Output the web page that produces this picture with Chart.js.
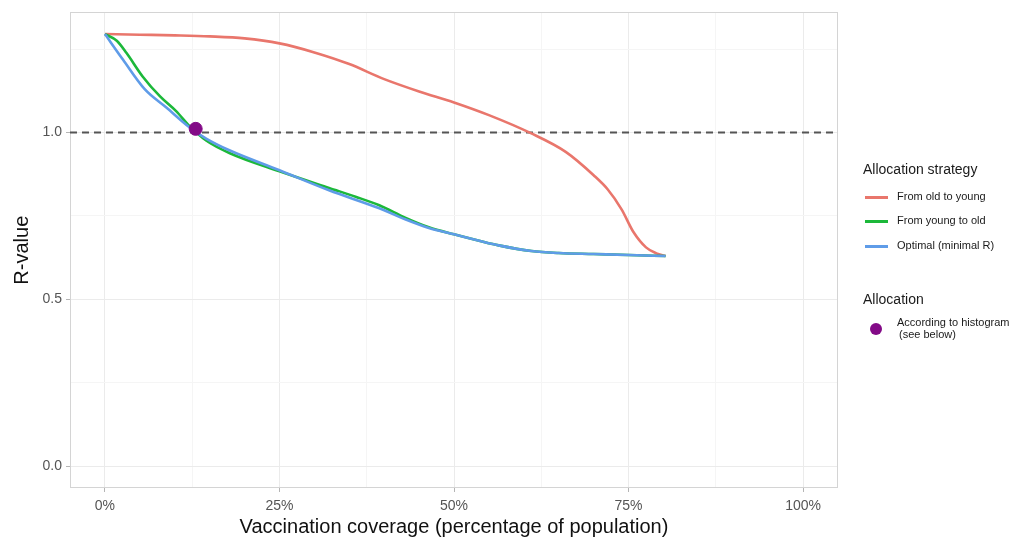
<!DOCTYPE html>
<html>
<head>
<meta charset="utf-8">
<script src="https://cdn.jsdelivr.net/npm/chart.js@4/dist/chart.umd.min.js"></script>
<style>
  html, body { margin: 0; padding: 0; background: #fff; }
  #wrap { position: relative; width: 1024px; height: 539px; overflow: hidden; font-family: "Liberation Sans", Arial, sans-serif; }
  canvas { position: absolute; left: 0; top: 0; }
  .lg { position: absolute; white-space: nowrap; color: #1a1a1a; }
  .lgt { font-size: 14px; }
  .lgi { font-size: 11px; line-height: 11px; }
  .sw { position: absolute; height: 3px; width: 23px; }
  .dot { position: absolute; width: 12px; height: 12px; border-radius: 50%; }
</style>
</head>
<body>
<div id="wrap">
  <canvas id="c" width="1024" height="539"></canvas>
</div>
<script>
// ---- data (x = vaccination coverage fraction, y = R-value) ----
const oldToYoungX = [0, 0.05, 0.10, 0.15, 0.20, 0.25, 0.30, 0.35, 0.40, 0.45, 0.50, 0.55, 0.61, 0.66, 0.70, 0.72, 0.74, 0.757, 0.775, 0.79, 0.803];
const oldToYoungY = [1.295, 1.293, 1.291, 1.288, 1.282, 1.267, 1.240, 1.205, 1.160, 1.123, 1.090, 1.052, 0.998, 0.942, 0.872, 0.830, 0.770, 0.702, 0.656, 0.638, 0.630];

const youngToOldX = [0, 0.017, 0.031, 0.054, 0.079, 0.102, 0.121, 0.145, 0.179, 0.25, 0.321, 0.36, 0.393, 0.43, 0.464, 0.50, 0.536, 0.564, 0.611, 0.65, 0.70, 0.75, 0.803];
const youngToOldY = [1.295, 1.275, 1.238, 1.168, 1.108, 1.064, 1.020, 0.976, 0.938, 0.884, 0.834, 0.807, 0.782, 0.745, 0.716, 0.695, 0.676, 0.662, 0.645, 0.639, 0.636, 0.633, 0.630];

const optimalX = [0, 0.026, 0.057, 0.088, 0.121, 0.145, 0.179, 0.25, 0.321, 0.393, 0.43, 0.464, 0.50, 0.536, 0.564, 0.611, 0.65, 0.70, 0.75, 0.803];
const optimalY = [1.295, 1.218, 1.130, 1.075, 1.016, 0.982, 0.946, 0.887, 0.827, 0.773, 0.740, 0.714, 0.695, 0.676, 0.662, 0.645, 0.639, 0.636, 0.633, 0.630];

const histogramPointX = [0.13];
const histogramPointY = [1.011];

const thresholdR = 1.0;

const xTickValues = [0, 0.125, 0.25, 0.375, 0.5, 0.625, 0.75, 0.875, 1.0];
const xLabeledTicks = [0, 0.25, 0.5, 0.75, 1.0];
const yTickValues = [0, 0.25, 0.5, 0.75, 1.0, 1.25];
const yLabeledTicks = [0, 0.5, 1.0];

const xMin = -0.05, xMax = 1.05;
const yMin = -0.0648, yMax = 1.3598;

const seriesNames = ["From old to young", "From young to old", "Optimal (minimal R)"];
const seriesColors = ["#e9766c", "#1cb83a", "#5f9ce8"];
const pointName = "According to histogram\n(see below)";
const pointColor = "#830a87";

// ---- build ----
const pts = (xs, ys) => xs.map((x, i) => ({ x: x, y: ys[i] }));
const isIn = (arr, v) => arr.some(a => Math.abs(a - v) < 1e-9);

const frame = {
  id: 'frame',
  beforeDatasetsDraw(chart) {
    const a = chart.chartArea, ctx = chart.ctx;
    ctx.save();
    ctx.strokeStyle = '#d4d4d4';
    ctx.lineWidth = 1;
    ctx.strokeRect(Math.round(a.left) + 0.5, Math.round(a.top) + 0.5, Math.round(a.right - a.left) - 1, Math.round(a.bottom - a.top) - 1);
    ctx.restore();
  }
};

const tickFont = { family: '"Liberation Sans", Arial, sans-serif', size: 14 };
const titleFont = { family: '"Liberation Sans", Arial, sans-serif', size: 20 };

new Chart(document.getElementById('c'), {
  type: 'line',
  data: {
    datasets: [
      { label: 'point', data: pts(histogramPointX, histogramPointY), showLine: false, pointRadius: 6.5, pointBackgroundColor: pointColor, pointBorderColor: pointColor, order: 0 },
      { label: seriesNames[2], data: pts(optimalX, optimalY), borderColor: seriesColors[2], borderWidth: 2.6, pointRadius: 0, cubicInterpolationMode: 'monotone', order: 1 },
      { label: seriesNames[1], data: pts(youngToOldX, youngToOldY), borderColor: seriesColors[1], borderWidth: 2.6, pointRadius: 0, cubicInterpolationMode: 'monotone', order: 2 },
      { label: seriesNames[0], data: pts(oldToYoungX, oldToYoungY), borderColor: seriesColors[0], borderWidth: 2.6, pointRadius: 0, cubicInterpolationMode: 'monotone', order: 3 },
      { label: 'threshold', data: [{ x: xMin, y: thresholdR }, { x: xMax, y: thresholdR }], borderColor: '#555555', borderWidth: 2, borderDash: [7, 5], pointRadius: 0, order: 4 }
    ]
  },
  options: {
    responsive: false,
    animation: false,
    clip: false,
    layout: { padding: { top: 12, right: 186, left: 0, bottom: 0 } },
    plugins: { legend: { display: false }, tooltip: { enabled: false } },
    scales: {
      x: {
        type: 'linear', min: xMin, max: xMax,
        afterBuildTicks: s => { s.ticks = xTickValues.map(v => ({ value: v })); },
        afterFit: s => { s.height = 51; },
        border: { display: false },
        grid: {
          color: c => isIn(xLabeledTicks, c.tick.value) ? '#ebebeb' : '#f5f5f5',
          lineWidth: 1,
          tickLength: 4,
          tickColor: c => isIn(xLabeledTicks, c.tick.value) ? '#b5b5b5' : 'rgba(0,0,0,0)'
        },
        ticks: {
          autoSkip: false, maxRotation: 0, padding: 6, color: '#555555', font: tickFont,
          callback: v => isIn(xLabeledTicks, v) ? Math.round(v * 100) + '%' : ''
        },
        title: { display: true, text: 'Vaccination coverage (percentage of population)', color: '#111', font: titleFont, padding: { top: 0, bottom: 0 } }
      },
      y: {
        type: 'linear', min: yMin, max: yMax,
        afterBuildTicks: s => { s.ticks = yTickValues.map(v => ({ value: v })); },
        afterFit: s => { s.width = 70; },
        border: { display: false },
        grid: {
          color: c => isIn(yLabeledTicks, c.tick.value) ? '#ebebeb' : '#f5f5f5',
          lineWidth: 1,
          tickLength: 4,
          tickColor: c => isIn(yLabeledTicks, c.tick.value) ? '#b5b5b5' : 'rgba(0,0,0,0)'
        },
        ticks: {
          autoSkip: false, padding: 4, color: '#555555', font: tickFont,
          callback: v => isIn(yLabeledTicks, v) ? v.toFixed(1) : ''
        },
        title: { display: true, text: 'R-value', color: '#111', font: titleFont, padding: { top: 10, bottom: 0 } }
      }
    }
  },
  plugins: [frame]
});

// ---- legend (HTML text) ----
const wrap = document.getElementById('wrap');
function add(cls, text, left, top, extra) {
  const d = document.createElement('div');
  d.className = cls;
  if (text !== null) d.textContent = text;
  d.style.left = left + 'px';
  d.style.top = top + 'px';
  if (extra) Object.assign(d.style, extra);
  wrap.appendChild(d);
  return d;
}
add('lg lgt', 'Allocation strategy', 863, 161);
const itemTops = [197, 221, 246];
seriesNames.forEach((n, i) => {
  add('sw', null, 865, itemTops[i] - 1.5, { background: seriesColors[i] });
  add('lg lgi', n, 897, itemTops[i] - 6);
});
add('lg lgt', 'Allocation', 863, 291);
add('dot', null, 870, 323, { background: pointColor });
const pl = pointName.split('\n');
add('lg lgi', pl[0], 897, 317);
add('lg lgi', ' ' + pl[1], 899, 329);
</script>
</body>
</html>
